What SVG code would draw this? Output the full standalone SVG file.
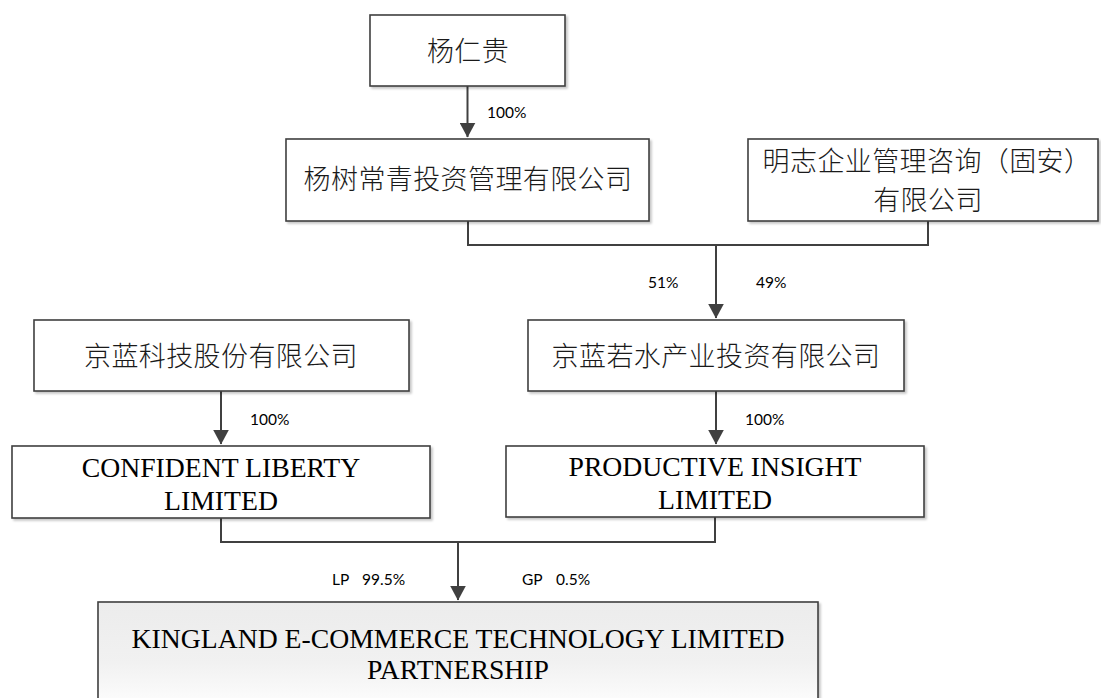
<svg xmlns="http://www.w3.org/2000/svg" width="1101" height="698" viewBox="0 0 1101 698">
<defs>
<style>
.box{fill:#ffffff;stroke:#404040;stroke-width:1.6;filter:url(#sh)}
.gbox{fill:url(#gr);stroke:#404040;stroke-width:1.6;filter:url(#sh)}
.zh{font-family:"Noto Sans CJK SC","Noto Sans",sans-serif;font-size:27px;font-weight:300;fill:#1a1a1a;text-anchor:middle;letter-spacing:0.4px}
.en{font-family:"Liberation Serif","Times New Roman",serif;font-size:27.7px;fill:#000;text-anchor:middle}
.lb{font-family:"Lato","Liberation Sans",sans-serif;font-size:15.5px;fill:#000}
.ln{fill:none;stroke:#404040;stroke-width:2}
</style>
<linearGradient id="gr" x1="0" y1="0" x2="0" y2="1">
<stop offset="0" stop-color="#ececec"/>
<stop offset="0.55" stop-color="#f1f1f1"/>
<stop offset="1" stop-color="#ffffff"/>
</linearGradient>
<filter id="sh" x="-5%" y="-5%" width="110%" height="120%">
<feDropShadow dx="2" dy="2" stdDeviation="1.2" flood-color="#000" flood-opacity="0.22"/>
</filter>
<marker id="ar" markerWidth="8" markerHeight="8" refX="7.2" refY="4" orient="auto" markerUnits="strokeWidth">
<path d="M0,0 L7.5,4 L0,8 z" fill="#404040"/>
</marker>
</defs>
<rect width="1101" height="698" fill="#ffffff"/>

<g id="connectors">
<line class="ln" x1="467.5" y1="86" x2="467.5" y2="137" marker-end="url(#ar)"/>
<polyline class="ln" points="468,221 468,245 928,245 928,221"/>
<line class="ln" x1="716" y1="245" x2="716" y2="318" marker-end="url(#ar)"/>
<line class="ln" x1="221" y1="391" x2="221" y2="444" marker-end="url(#ar)"/>
<line class="ln" x1="716" y1="391" x2="716" y2="444" marker-end="url(#ar)"/>
<polyline class="ln" points="221,518 221,542 715,542 715,517"/>
<line class="ln" x1="458" y1="542" x2="458" y2="600" marker-end="url(#ar)"/>
<text class="lb" x="487" y="118">100%</text>
<text class="lb" x="648" y="288">51%</text>
<text class="lb" x="756" y="288">49%</text>
<text class="lb" x="250" y="425">100%</text>
<text class="lb" x="745" y="425">100%</text>
<text class="lb" y="585"><tspan x="332">LP</tspan><tspan x="362">99.5%</tspan></text>
<text class="lb" y="585"><tspan x="522">GP</tspan><tspan x="556">0.5%</tspan></text>
</g>

<g id="n1">
<rect class="box" x="370" y="15" width="195" height="71"/>
<text class="zh" x="468" y="61">杨仁贵</text>
</g>
<g id="n2">
<rect class="box" x="286" y="139" width="363" height="82"/>
<text class="zh" x="468" y="189">杨树常青投资管理有限公司</text>
</g>
<g id="n3">
<rect class="box" x="748" y="139" width="350" height="82"/>
<text class="zh" x="927" y="171">明志企业管理咨询（固安）</text>
<text class="zh" x="928" y="210">有限公司</text>
</g>
<g id="n4">
<rect class="box" x="34" y="320" width="375" height="71"/>
<text class="zh" x="221" y="366">京蓝科技股份有限公司</text>
</g>
<g id="n5">
<rect class="box" x="528" y="320" width="376" height="71"/>
<text class="zh" x="716" y="366">京蓝若水产业投资有限公司</text>
</g>
<g id="n6">
<rect class="box" x="12" y="446" width="418" height="72"/>
<text class="en" x="221" y="477">CONFIDENT LIBERTY</text>
<text class="en" x="221" y="510">LIMITED</text>
</g>
<g id="n7">
<rect class="box" x="506" y="446" width="418" height="71"/>
<text class="en" x="715" y="476">PRODUCTIVE INSIGHT</text>
<text class="en" x="715" y="509">LIMITED</text>
</g>
<g id="n8">
<rect class="gbox" x="98" y="602" width="720" height="110"/>
<text class="en" x="458" y="648">KINGLAND E-COMMERCE TECHNOLOGY LIMITED</text>
<text class="en" x="458" y="679">PARTNERSHIP</text>
</g>
</svg>
